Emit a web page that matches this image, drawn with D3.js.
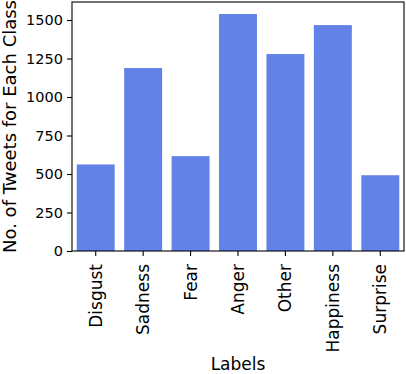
<!DOCTYPE html>
<html>
<head>
<meta charset="utf-8">
<script src="https://cdn.jsdelivr.net/npm/d3@7"></script>
<style>
  body { margin: 0; background: #fff; }
  text { font-family: "DejaVu Sans", sans-serif; fill: #000; }
</style>
</head>
<body>
<svg id="drawing_region"></svg>
<script>
const categories = ['Disgust', 'Sadness', 'Fear', 'Anger', 'Other', 'Happiness', 'Surprise'];
const counts = [562, 1188, 616, 1539, 1279, 1467, 492];
const yTicks = [0, 250, 500, 750, 1000, 1250, 1500];

const data = categories.map((c, i) => ({label: c, value: counts[i]}));

const config = {
    width: 406,
    height: 374,
    margin: {left: 72, top: 2, right: 2, bottom: 123}
};

class BarChart {
    constructor( config, data ) {
        this.config = config;
        this.data = data;
        this.init();
    }
    init() {
        let self = this;
        const m = self.config.margin;
        self.inner_width = self.config.width - m.left - m.right;
        self.inner_height = self.config.height - m.top - m.bottom;

        self.svg = d3.select('#drawing_region')
            .attr('width', self.config.width)
            .attr('height', self.config.height);

        self.chart = self.svg.append('g')
            .attr('transform', `translate(${m.left}, ${m.top})`);

        self.xscale = d3.scaleBand()
            .domain(categories)
            .range([0, self.inner_width])
            .paddingInner(0.2)
            .paddingOuter(0.1);

        self.yscale = d3.scaleLinear()
            .domain([0, 1617])
            .range([self.inner_height, 0]);
    }
    render() {
        let self = this;
        const h = self.inner_height, w = self.inner_width;

        self.chart.selectAll('rect.bar')
            .data(self.data)
            .enter()
            .append('rect')
            .attr('class', 'bar')
            .attr('x', d => self.xscale(d.label))
            .attr('y', d => self.yscale(d.value))
            .attr('width', self.xscale.bandwidth())
            .attr('height', d => h - self.yscale(d.value))
            .attr('fill', '#6282e8');

        // y axis
        const yaxis = self.chart.append('g')
            .call(d3.axisLeft(self.yscale).tickValues(yTicks).tickFormat(d3.format('d')).tickSize(5).tickPadding(4));
        yaxis.select('.domain').remove();
        yaxis.selectAll('text').style('font-size', '14.5px');
        yaxis.selectAll('line').attr('stroke-width', 1.1);

        // x axis
        const xaxis = self.chart.append('g')
            .attr('transform', `translate(0, ${h})`)
            .call(d3.axisBottom(self.xscale).tickSize(5));
        xaxis.select('.domain').remove();
        xaxis.selectAll('line').attr('stroke-width', 1.1);
        xaxis.selectAll('text')
            .style('font-size', '17px')
            .attr('text-anchor', 'end')
            .attr('transform', 'rotate(-90)')
            .attr('x', -13)
            .attr('y', 0)
            .attr('dy', '0.35em');

        // frame
        self.chart.append('rect')
            .attr('x', 0).attr('y', 0)
            .attr('width', w).attr('height', h)
            .attr('fill', 'none')
            .attr('stroke', '#000')
            .attr('stroke-width', 1.1);

        self.svg.append('text')
            .attr('x', self.config.margin.left + w / 2)
            .attr('y', 370)
            .attr('text-anchor', 'middle')
            .style('font-size', '17px')
            .text('Labels');

        self.svg.append('text')
            .attr('transform', `translate(16, ${self.config.margin.top + h / 2}) rotate(-90)`)
            .attr('text-anchor', 'middle')
            .style('font-size', '18px')
            .text('No. of Tweets for Each Class');
    }
}

const bar_chart = new BarChart( config, data );
bar_chart.render();
</script>
</body>
</html>
